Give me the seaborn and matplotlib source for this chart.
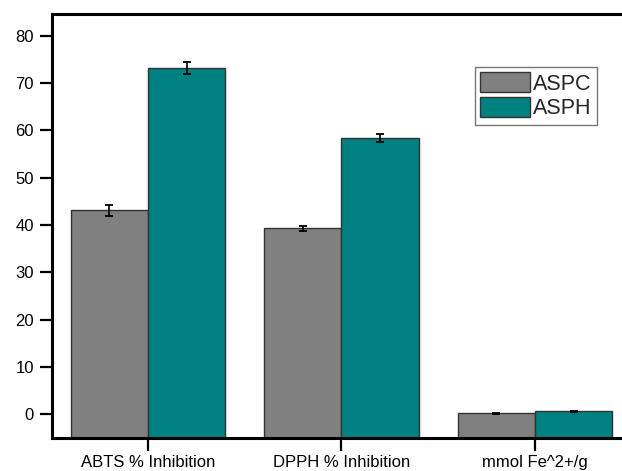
import matplotlib
matplotlib.use("Agg")
import matplotlib.pyplot as plt
import seaborn as sns
import pandas as pd

# Antioxidant assay results
categories = ["ABTS % Inhibition", "DPPH % Inhibition", "mmol Fe^2+/g"]
aspc_values = [43.1, 39.3, 0.2]
asph_values = [73.2, 58.4, 0.7]
aspc_errors = [1.1, 0.5, 0.1]
asph_errors = [1.2, 0.8, 0.1]
series = ["ASPC", "ASPH"]
colors = ["#808080", "#008080"]

sns.set_style("white")
plt.rcParams["font.family"] = ["Liberation Sans", "DejaVu Sans"]

df = pd.DataFrame({
    "category": categories * 2,
    "value": aspc_values + asph_values,
    "err": aspc_errors + asph_errors,
    "sample": [series[0]] * 3 + [series[1]] * 3,
})

fig = plt.figure(figsize=(6.22, 4.71), dpi=100)
ax = fig.add_axes([52 / 622, 1 - 438 / 471, 1 - 52 / 622, (438 - 14) / 471])

ymin, ymax = -5.0, 84.6
sns.barplot(data=df, x="category", y="value", hue="sample", order=categories,
            hue_order=series, palette=colors, width=0.8, errorbar=None,
            edgecolor="#333333", linewidth=1.0, saturation=1, ax=ax)

ax.set_ylim(ymin, ymax)
ax.set_xlim(-0.496, 2.45)

# bars rise from the bottom of the axis; add error bars at bar centres
for container, errs in zip(ax.containers, [aspc_errors, asph_errors]):
    for patch, e in zip(container.patches, errs):
        top = patch.get_y() + patch.get_height()
        patch.set_y(ymin)
        patch.set_height(top - ymin)
        cx = patch.get_x() + patch.get_width() / 2
        ax.errorbar(cx, top, yerr=e, fmt="none", ecolor="black",
                    elinewidth=1.2, capsize=3.2, capthick=1.3, zorder=5)

ax.set_yticks([0, 10, 20, 30, 40, 50, 60, 70, 80])
ax.set_xlabel("")
ax.set_ylabel("")
ax.tick_params(axis="both", direction="out", length=9, width=1.6,
               labelsize=12, colors="black", bottom=True, left=True)
ax.tick_params(axis="y", pad=4)
ax.tick_params(axis="x", pad=3)
ax.spines["right"].set_visible(False)
for side in ["left", "top", "bottom"]:
    ax.spines[side].set_linewidth(2.2)
    ax.spines[side].set_color("black")

leg = ax.legend(loc="upper left", bbox_to_anchor=(0.742, 0.875), frameon=True,
                fancybox=False, edgecolor="#555555", fontsize=15.5,
                handlelength=2.3, handleheight=1.05, handletextpad=0.15,
                labelspacing=0.1, borderpad=0.25, borderaxespad=0)
leg.get_frame().set_linewidth(1.0)

fig.savefig("out.png", dpi=100)
